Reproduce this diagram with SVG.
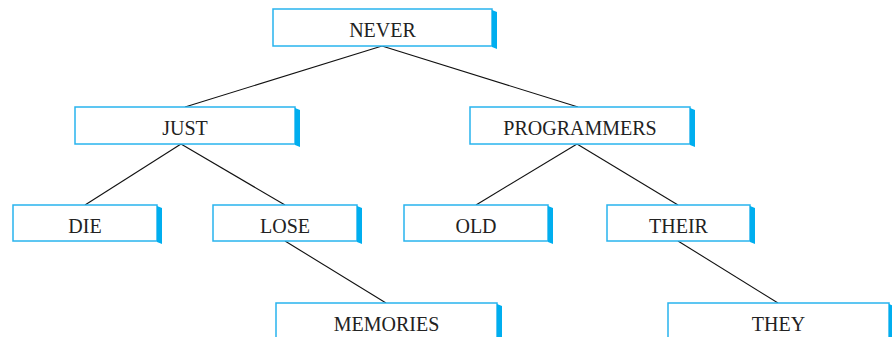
<svg xmlns="http://www.w3.org/2000/svg" width="892" height="337" viewBox="0 0 892 337">
<style>
.box{fill:#fff;stroke:#29b4ee;stroke-width:1.5}
.sh{fill:#00aeef}
.t{font-family:"Liberation Serif","Times New Roman",serif;font-size:20px;fill:#222;text-anchor:middle}
.c line{stroke:#111;stroke-width:1.1}
</style>
<rect width="892" height="337" fill="#fff"/>
<g class="c">
<line x1="382" y1="46" x2="185" y2="107"/>
<line x1="382" y1="46" x2="578" y2="107"/>
<line x1="181" y1="144" x2="85" y2="205"/>
<line x1="181" y1="144" x2="285" y2="205"/>
<line x1="577" y1="144" x2="476" y2="205"/>
<line x1="577" y1="144" x2="678" y2="205"/>
<line x1="285" y1="241" x2="386" y2="303"/>
<line x1="678" y1="241" x2="778" y2="303"/>
</g>
<g id="n-never"><rect class="box" x="273" y="9" width="219" height="37"/><polygon class="sh" points="492,10 497,12 497,49 492,47"/><text class="t" x="382.5" y="37">NEVER</text></g>
<g id="n-just"><rect class="box" x="75" y="107" width="220" height="37"/><polygon class="sh" points="295,108 300,110 300,147 295,145"/><text class="t" x="185" y="135">JUST</text></g>
<g id="n-programmers"><rect class="box" x="470" y="107" width="220" height="37"/><polygon class="sh" points="690,108 695,110 695,147 690,145"/><text class="t" x="580" y="135">PROGRAMMERS</text></g>
<g id="n-die"><rect class="box" x="13" y="205" width="144" height="36"/><polygon class="sh" points="157,206 162,208 162,244 157,242"/><text class="t" x="85" y="233">DIE</text></g>
<g id="n-lose"><rect class="box" x="213" y="205" width="144" height="36"/><polygon class="sh" points="357,206 362,208 362,244 357,242"/><text class="t" x="285" y="233">LOSE</text></g>
<g id="n-old"><rect class="box" x="404" y="205" width="144" height="36"/><polygon class="sh" points="548,206 553,208 553,244 548,242"/><text class="t" x="476" y="233">OLD</text></g>
<g id="n-their"><rect class="box" x="607" y="205" width="143" height="36"/><polygon class="sh" points="750,206 755,208 755,244 750,242"/><text class="t" x="678.5" y="233">THEIR</text></g>
<g id="n-memories"><rect class="box" x="276" y="303" width="221" height="40"/><polygon class="sh" points="497,304 502,306 502,340 497,340"/><text class="t" x="386.5" y="331">MEMORIES</text></g>
<g id="n-they"><rect class="box" x="668" y="303" width="221" height="40"/><polygon class="sh" points="889,304 894,306 894,340 889,340"/><text class="t" x="778.5" y="331">THEY</text></g>
</svg>
